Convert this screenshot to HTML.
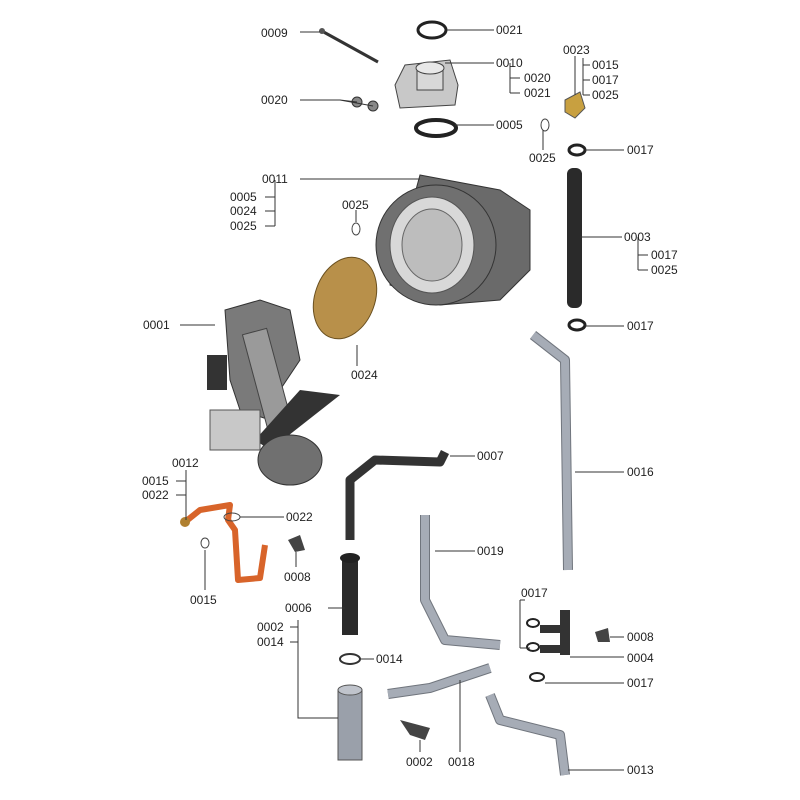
<!DOCTYPE html>
<html><head><meta charset="utf-8"><style>
html,body{margin:0;padding:0;background:#fff}
svg{display:block}
text{font-family:"Liberation Sans",Arial,sans-serif;font-size:12px;fill:#222}
.l{stroke:#333;stroke-width:1;fill:none}
</style></head><body>
<svg width="800" height="800" viewBox="0 0 800 800">
<line x1="320" y1="30" x2="378" y2="62" stroke="#333" stroke-width="3"/>
<circle cx="322" cy="31" r="3" fill="#555"/>
<ellipse cx="432" cy="30" rx="14" ry="8" fill="none" stroke="#222" stroke-width="3"/>
<path d="M395 85 L405 65 L450 60 L458 85 L455 105 L400 108 Z" fill="#c8c8c8" stroke="#444"/>
<rect x="417" y="68" width="26" height="22" fill="#d8d8d8" stroke="#444"/>
<ellipse cx="430" cy="68" rx="14" ry="6" fill="#e8e8e8" stroke="#444"/>
<circle cx="357" cy="102" r="5" fill="#888" stroke="#333"/><circle cx="373" cy="106" r="5" fill="#888" stroke="#333"/>
<ellipse cx="436" cy="128" rx="20" ry="8" fill="none" stroke="#222" stroke-width="4"/>
<path d="M565 100 L580 92 L585 108 L575 118 L565 112 Z" fill="#c8a040" stroke="#555"/>
<ellipse cx="545" cy="125" rx="4" ry="6" fill="none" stroke="#444"/>
<ellipse cx="577" cy="150" rx="8" ry="5" fill="none" stroke="#222" stroke-width="3"/>
<rect x="567" y="168" width="15" height="140" rx="6" fill="#2a2a2a"/>
<ellipse cx="577" cy="325" rx="8" ry="5" fill="none" stroke="#222" stroke-width="3"/>
<path d="M420 175 L500 190 L530 210 L530 270 L500 300 L440 305 L390 285 Z" fill="#6a6a6a" stroke="#333"/>
<ellipse cx="436" cy="245" rx="60" ry="60" fill="#707070" stroke="#333"/>
<ellipse cx="432" cy="245" rx="42" ry="48" fill="#d8d8d8" stroke="#555"/>
<ellipse cx="432" cy="245" rx="30" ry="36" fill="#bdbdbd" stroke="#666"/>
<ellipse cx="356" cy="229" rx="4" ry="6" fill="none" stroke="#444"/>
<ellipse cx="345" cy="298" rx="30" ry="42" fill="#b8904a" stroke="#6a5020" transform="rotate(20 345 298)"/>
<path d="M225 310 L260 300 L290 310 L300 360 L280 390 L270 420 L240 410 L230 380 Z" fill="#7a7a7a" stroke="#333"/>
<rect x="255" y="330" width="25" height="100" fill="#9a9a9a" stroke="#444" transform="rotate(-15 267 380)"/>
<path d="M300 390 L340 395 L270 450 L255 440 Z" fill="#333"/>
<ellipse cx="290" cy="460" rx="32" ry="25" fill="#707070" stroke="#333"/>
<rect x="210" y="410" width="50" height="40" fill="#c8c8c8" stroke="#555"/>
<rect x="207" y="355" width="20" height="35" fill="#333"/>
<path d="M350 540 L350 480 L375 460 L440 462 L445 452" fill="none" stroke="#333" stroke-width="9" stroke-linejoin="round"/>
<path d="M533 335 L565 360 L568 570" fill="none" stroke="#70757d" stroke-width="10" stroke-linejoin="round"/>
<path d="M533 335 L565 360 L568 570" fill="none" stroke="#a6acb6" stroke-width="8" stroke-linejoin="round"/>
<path d="M185 522 L200 510 L230 505 L228 520 L235 530 L238 580 L260 578 L265 545" fill="none" stroke="#d8642a" stroke-width="6" stroke-linejoin="round"/>
<circle cx="185" cy="522" r="5" fill="#b08030"/>
<ellipse cx="205" cy="543" rx="4" ry="5" fill="none" stroke="#444"/>
<ellipse cx="232" cy="517" rx="8" ry="4" fill="none" stroke="#444"/>
<path d="M288 540 L300 535 L305 550 L295 552 Z" fill="#444"/>
<rect x="342" y="560" width="16" height="75" fill="#2a2a2a"/>
<ellipse cx="350" cy="558" rx="10" ry="5" fill="#222"/>
<path d="M425 515 L425 600 L445 640 L500 645" fill="none" stroke="#70757d" stroke-width="10" stroke-linejoin="round"/>
<path d="M425 515 L425 600 L445 640 L500 645" fill="none" stroke="#a6acb6" stroke-width="8" stroke-linejoin="round"/>
<ellipse cx="350" cy="659" rx="10" ry="5" fill="none" stroke="#333" stroke-width="2"/>
<rect x="338" y="690" width="24" height="70" fill="#9aa0aa" stroke="#555"/>
<ellipse cx="350" cy="690" rx="12" ry="5" fill="#c0c4cc" stroke="#555"/>
<path d="M388 694 L430 688 L490 668" fill="none" stroke="#70757d" stroke-width="10"/>
<path d="M388 694 L430 688 L490 668" fill="none" stroke="#a6acb6" stroke-width="8"/>
<path d="M400 720 L430 728 L425 740 L410 735 Z" fill="#444"/>
<path d="M490 695 L500 720 L560 735 L565 775" fill="none" stroke="#70757d" stroke-width="10" stroke-linejoin="round"/>
<path d="M490 695 L500 720 L560 735 L565 775" fill="none" stroke="#a6acb6" stroke-width="8" stroke-linejoin="round"/>
<rect x="560" y="610" width="10" height="45" fill="#333"/>
<rect x="540" y="625" width="25" height="8" fill="#333"/>
<rect x="540" y="645" width="25" height="8" fill="#333"/>
<ellipse cx="533" cy="623" rx="6" ry="4" fill="none" stroke="#222" stroke-width="2"/>
<ellipse cx="533" cy="647" rx="6" ry="4" fill="none" stroke="#222" stroke-width="2"/>
<ellipse cx="537" cy="677" rx="7" ry="4" fill="none" stroke="#222" stroke-width="2"/>
<path d="M595 632 L608 628 L610 642 L598 642 Z" fill="#444"/>

<path class="l" d="M300 32 H320 M447 30 H494 M445 63 H494 M510 63 V93 M510 78 H520 M510 93 H520 M583 58 V95 M583 65 H590 M583 80 H590 M583 95 H590 M575 56 V95 M300 100 H340 L357 102 M340 100 L373 106 M455 125 H494 M543 130 V150 M585 150 H624 M300 179 H420 M275 180 V226 M265 197 H275 M265 211 H275 M265 226 H275 M356 210 V222 M580 237 H622 M638 237 V270 M638 255 H648 M638 270 H648 M180 325 H215 M585 326 H624 M357 345 V366 M450 456 H475 M575 472 H624 M186 470 V520 M176 481 H186 M176 495 H186 M240 517 H284 M205 550 V590 M296 552 V567 M435 551 H475 M328 608 H345 M520 600 V648 M520 600 H525 M520 648 H530 M610 637 H624 M570 657 H624 M298 620 V718 H338 M290 627 H298 M290 642 H298 M360 659 H374 M545 683 H624 M420 740 V752 M460 680 V752 M568 770 H624"/>

<text x="261" y="37">0009</text>
<text x="496" y="34">0021</text>
<text x="496" y="67">0010</text>
<text x="524" y="82">0020</text>
<text x="524" y="97">0021</text>
<text x="563" y="54">0023</text>
<text x="592" y="69">0015</text>
<text x="592" y="84">0017</text>
<text x="592" y="99">0025</text>
<text x="261" y="104">0020</text>
<text x="496" y="129">0005</text>
<text x="529" y="162">0025</text>
<text x="627" y="154">0017</text>
<text x="262" y="183">0011</text>
<text x="230" y="201">0005</text>
<text x="230" y="215">0024</text>
<text x="230" y="230">0025</text>
<text x="342" y="209">0025</text>
<text x="624" y="241">0003</text>
<text x="651" y="259">0017</text>
<text x="651" y="274">0025</text>
<text x="143" y="329">0001</text>
<text x="627" y="330">0017</text>
<text x="351" y="379">0024</text>
<text x="477" y="460">0007</text>
<text x="627" y="476">0016</text>
<text x="172" y="467">0012</text>
<text x="142" y="485">0015</text>
<text x="142" y="499">0022</text>
<text x="286" y="521">0022</text>
<text x="477" y="555">0019</text>
<text x="284" y="581">0008</text>
<text x="190" y="604">0015</text>
<text x="521" y="597">0017</text>
<text x="285" y="612">0006</text>
<text x="627" y="641">0008</text>
<text x="257" y="631">0002</text>
<text x="257" y="646">0014</text>
<text x="627" y="662">0004</text>
<text x="376" y="663">0014</text>
<text x="627" y="687">0017</text>
<text x="406" y="766">0002</text>
<text x="448" y="766">0018</text>
<text x="627" y="774">0013</text>
</svg>
</body></html>
